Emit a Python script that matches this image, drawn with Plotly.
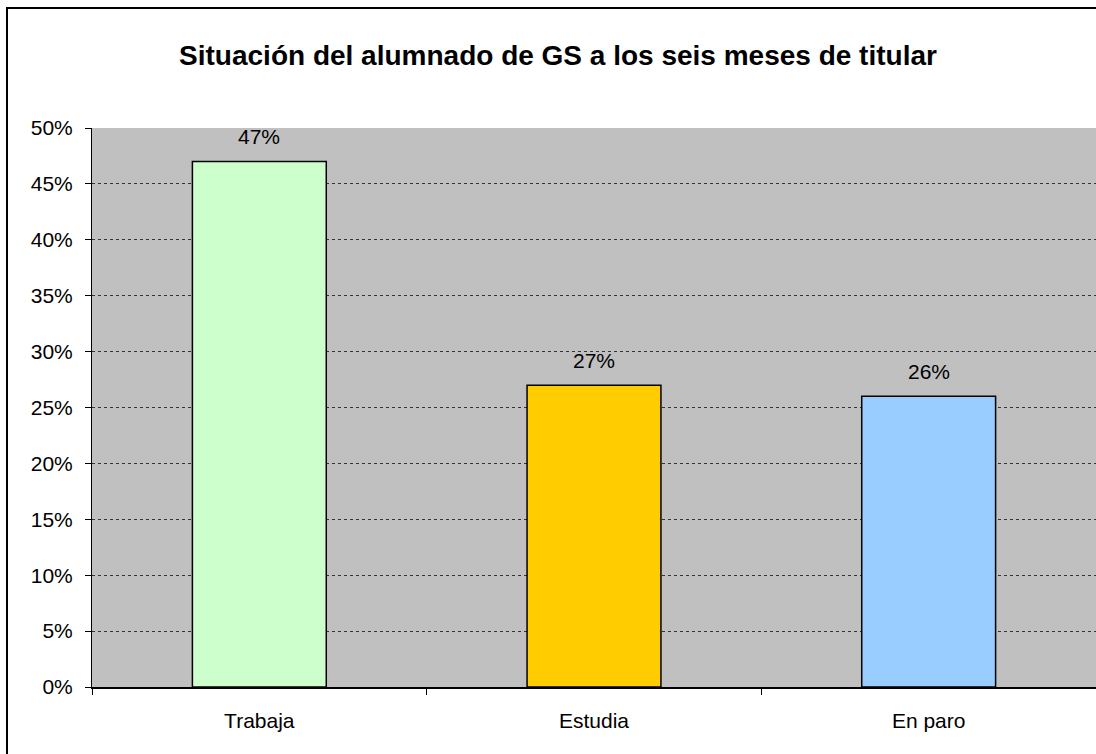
import plotly.graph_objects as go

categorias = ["Trabaja", "Estudia", "En paro"]
porcentajes = [0.47, 0.27, 0.26]
colores = ["#CCFFCC", "#FFCC00", "#99CCFF"]
ticks_y = [0, 0.05, 0.10, 0.15, 0.20, 0.25, 0.30, 0.35, 0.40, 0.45, 0.50]

FONT = "Liberation Sans, Arial, sans-serif"

fig = go.Figure(go.Bar(
    x=categorias, y=porcentajes,
    marker=dict(color=colores, line=dict(color="black", width=1.5)),
    width=0.4,
))

# etiquetas de datos sobre cada barra
for cat, val in zip(categorias, porcentajes):
    fig.add_annotation(x=cat, y=val, text=f"{val:.0%}", showarrow=False,
                       yanchor="middle", yshift=25,
                       font=dict(family=FONT, size=21, color="black"))

fig.update_layout(
    width=1096, height=754,
    margin=dict(l=92, r=0, t=128, b=67),
    paper_bgcolor="white", plot_bgcolor="#C0C0C0",
    font=dict(family=FONT, size=21, color="black"),
    showlegend=False,
    title=dict(text="<b>Situación del alumnado de GS a los seis meses de titular</b>",
               x=558 / 1096, xanchor="center", y=1 - 55 / 754, yanchor="middle",
               font=dict(family=FONT, size=28, color="black")),
)

fig.update_yaxes(range=[0, 0.5], tickvals=ticks_y, tickformat=".0%",
                 showgrid=True, gridcolor="#333333", griddash="dot", gridwidth=1,
                 showline=True, linecolor="black", linewidth=1,
                 ticks="outside", ticklen=6, tickcolor="black",
                 ticklabelstandoff=8, zeroline=False)
fig.update_xaxes(showline=True, linecolor="black", linewidth=1.5,
                 ticks="outside", tickson="boundaries", ticklen=6, tickcolor="black",
                 ticklabelstandoff=14, showgrid=False)

# marco exterior del gráfico
fig.add_shape(type="rect", xref="paper", yref="paper",
              x0=(7 - 92) / 1004, x1=1.2, y0=-0.3, y1=(687 - 8) / 559,
              line=dict(color="black", width=2), fillcolor="rgba(0,0,0,0)", layer="above")

fig.write_html("out.html", config={"displayModeBar": False},
               post_script="document.body.style.margin='0';document.body.style.overflow='hidden';")
